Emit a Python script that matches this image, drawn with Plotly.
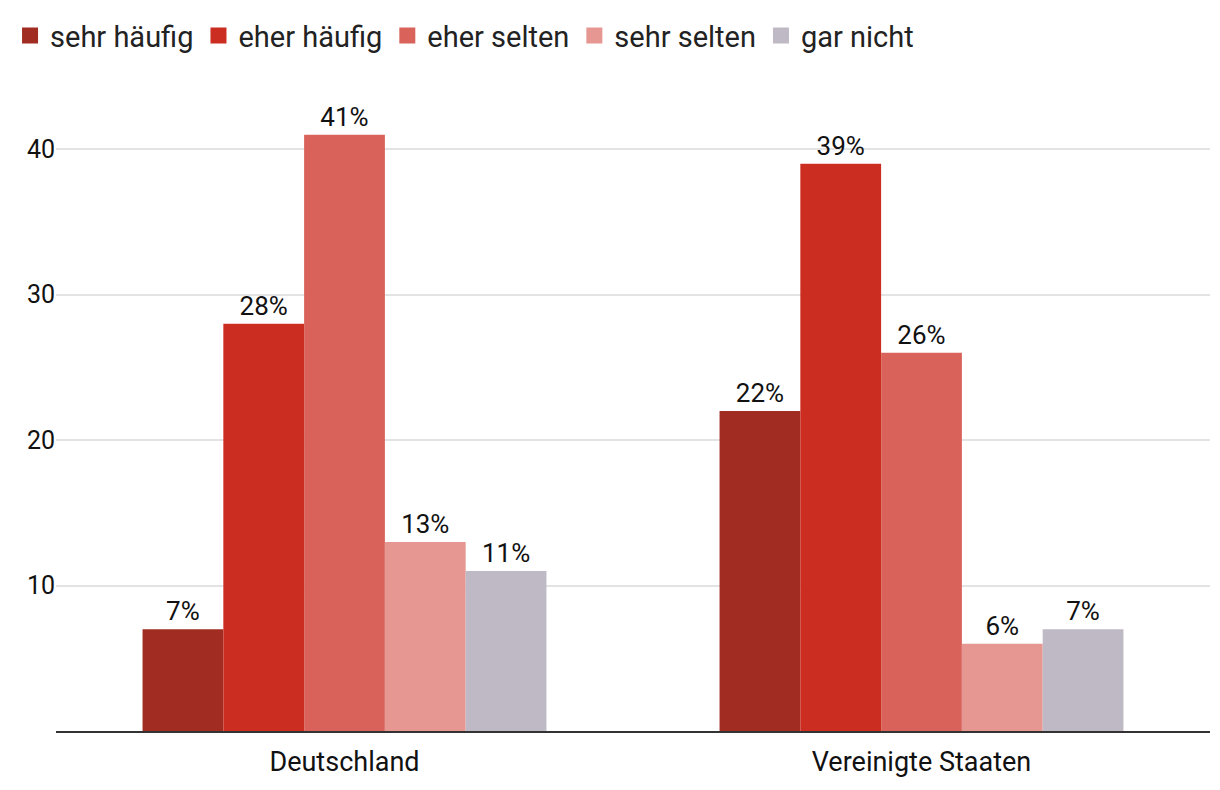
import plotly.graph_objects as go

categories = ["Deutschland", "Vereinigte Staaten"]
series_names = ["sehr häufig", "eher häufig", "eher selten", "sehr selten", "gar nicht"]
values = {
    "sehr häufig": [7, 22],
    "eher häufig": [28, 39],
    "eher selten": [41, 26],
    "sehr selten": [13, 6],
    "gar nicht": [11, 7],
}
colors = ["#A12D22", "#CC2D21", "#D9635A", "#E79791", "#BFB9C5"]
y_ticks = [10, 20, 30, 40]

FONT = "Roboto"
fig = go.Figure()
for name, col in zip(series_names, colors):
    fig.add_trace(go.Bar(
        name=name, x=categories, y=values[name], marker_color=col,
        marker_line_width=0, showlegend=False,
        text=[f"{v}%" for v in values[name]], textposition="outside",
        textfont=dict(size=26, color="#111", family=FONT),
        cliponaxis=False,
    ))
# legend entries (square swatches)
for name, col in zip(series_names, colors):
    fig.add_trace(go.Scatter(
        name=name, x=[None], y=[None], mode="markers",
        marker=dict(symbol="square", size=16, color=col),
        showlegend=True,
    ))

W, H = 1204, 774
L, R, T, B = 47, 2, 79, 51
plot_h = H - T - B
plot_w = W - L - R
fig.update_layout(
    width=W, height=H,
    barmode="group", bargap=0.3, bargroupgap=0,
    plot_bgcolor="white", paper_bgcolor="white",
    margin=dict(l=L, r=R, t=T, b=B),
    font=dict(family=FONT, size=24, color="#111"),
    legend=dict(orientation="h", x=-(L - 1) / plot_w, xanchor="left",
                y=1 + 30 / plot_h, yanchor="bottom",
                font=dict(size=29, family=FONT, color="#222"),
                itemsizing="trace", traceorder="normal", tracegroupgap=0),
)
fig.update_yaxes(range=[0, 44], tickvals=y_ticks, showgrid=True, gridcolor="#e3e3e3",
                 gridwidth=1.5, zeroline=False, showline=False, ticks="",
                 automargin=False,
                 tickfont=dict(size=25, family=FONT, color="#111"))
fig.update_xaxes(showline=True, linecolor="#333", linewidth=2, ticks="",
                 automargin=False, ticklabelstandoff=6,
                 tickfont=dict(size=27, family=FONT, color="#111"))

fig.write_html("out.html")
